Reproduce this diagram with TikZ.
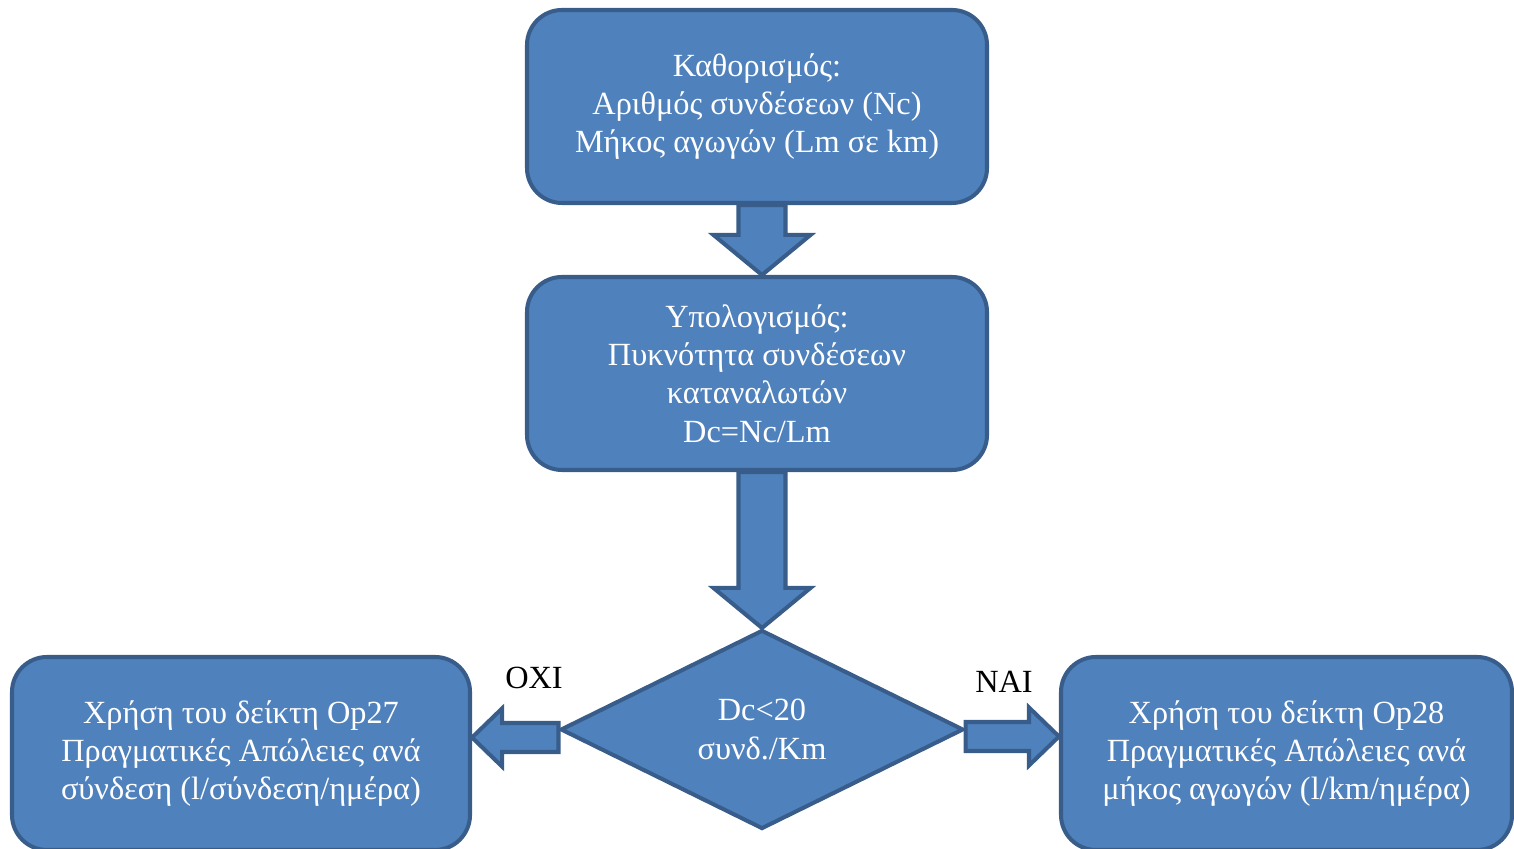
\documentclass[tikz,border=0pt]{standalone}
\usepackage{fontspec}
\setmainfont{Liberation Serif}
\usetikzlibrary{shapes.geometric,calc,backgrounds}
\definecolor{boxfill}{HTML}{4F81BD}
\definecolor{boxline}{HTML}{385D8A}
\tikzset{
  stepbox/.style={draw=boxline, fill=boxfill, line width=2.3pt, rounded corners=0.7cm,
    text=white, align=center, minimum width=9.2cm, minimum height=3.86cm,
    font=\fontsize{18.4}{21.8}\selectfont},
  decision/.style={diamond, draw=boxline, fill=boxfill, line width=2.3pt, inner sep=0pt,
    text=white, align=center, minimum width=8.06cm, minimum height=3.98cm,
    font=\fontsize{18.4}{21.8}\selectfont},
  blockarrow/.style={draw=boxline, fill=boxfill, line width=2.3pt},
  answer/.style={font=\fontsize{18.4}{21.8}\selectfont}
}
\newcommand{\vblockarrow}[2]{%
  \draw[blockarrow] ($(#1)+(-0.47,0)$) -- ($(#2)+(-0.47,0.8)$) -- ($(#2)+(-0.97,0.8)$)
    -- (#2) -- ($(#2)+(0.97,0.8)$) -- ($(#2)+(0.47,0.8)$) -- ($(#1)+(0.47,0)$) -- cycle;}
\newcommand{\hblockarrow}[3]{%
  \draw[blockarrow] ($(#1)+(0,0.29)$) -- ($(#2)+(#3*-0.6,0.29)$) -- ($(#2)+(#3*-0.6,0.58)$)
    -- (#2) -- ($(#2)+(#3*-0.6,-0.58)$) -- ($(#2)+(#3*-0.6,-0.29)$) -- ($(#1)+(0,-0.29)$) -- cycle;}

\begin{document}
\begin{tikzpicture}
\useasboundingbox (0,0) rectangle (30.28,16.98);

\node[stepbox] (define) at (15.14,14.85) {Καθορισμός:\\Αριθμός συνδέσεων (Nc)\\Μήκος αγωγών (Lm σε km)};
\node[stepbox] (compute) at (15.14,9.51) {Υπολογισμός:\\Πυκνότητα συνδέσεων\\καταναλωτών\\Dc=Nc/Lm};
\node[decision] (check) at (15.24,2.39) {Dc<20\\συνδ./Km};
\node[stepbox, minimum width=9.16cm] (op27) at (4.82,1.91) {Χρήση του δείκτη Op27\\Πραγματικές Απώλειες ανά\\σύνδεση (l/σύνδεση/ημέρα)};
\node[stepbox, minimum width=9.02cm] (op28) at (25.73,1.91) {Χρήση του δείκτη Op28\\Πραγματικές Απώλειες ανά\\μήκος αγωγών (l/km/ημέρα)};

\node[answer] (no) at (10.68,3.42) {ΟΧΙ};
\node[answer] (yes) at (20.08,3.34) {ΝΑΙ};

% block arrows behind the boxes
\coordinate (d1) at (define.south -| check.north);
\coordinate (c1) at (compute.north -| check.north);
\coordinate (c2) at (compute.south -| check.north);
\coordinate (la) at ($(check.west)+(0,-0.16)$);
\coordinate (ra) at ($(check.east)+(0,-0.14)$);
\begin{scope}[on background layer]
\vblockarrow{d1}{c1}
\vblockarrow{c2}{check.north}
\hblockarrow{la}{la -| op27.east}{-1}
\hblockarrow{ra}{ra -| op28.west}{1}
\end{scope}
\end{tikzpicture}
\end{document}
